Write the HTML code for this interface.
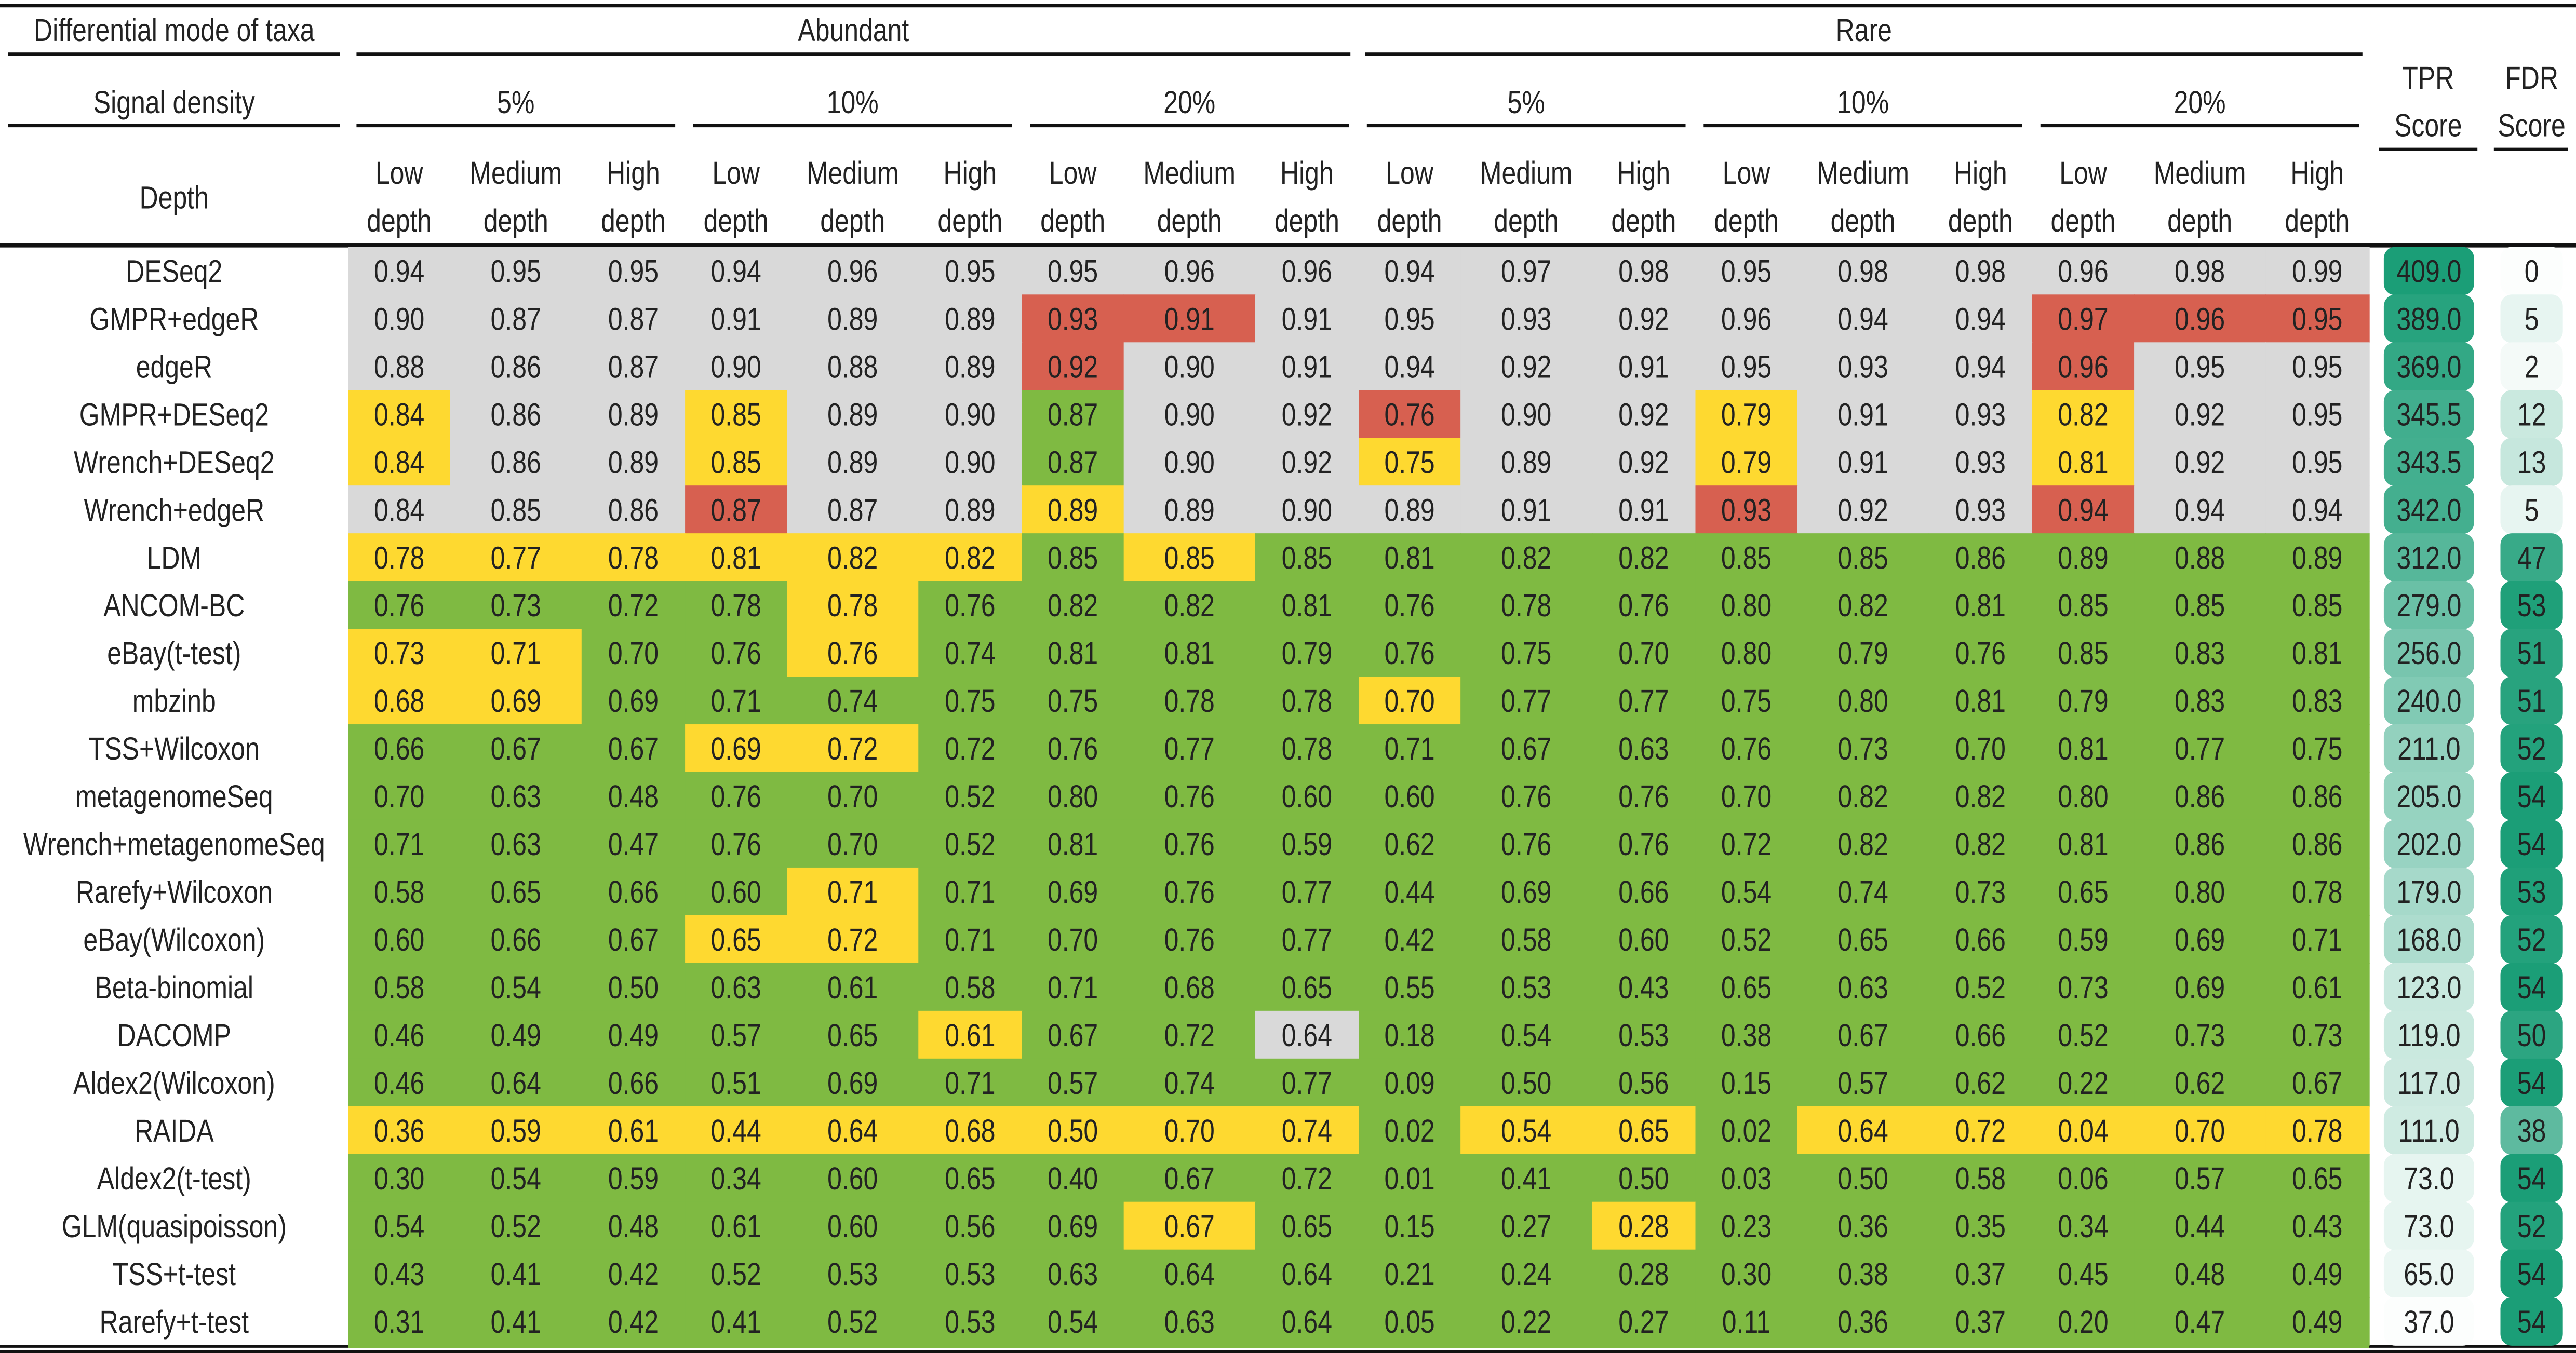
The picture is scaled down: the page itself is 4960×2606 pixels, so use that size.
<!DOCTYPE html>
<html><head><meta charset="utf-8"><style>
html,body{margin:0;padding:0;background:#fff;}
svg{display:block;}
text{font-family:"Liberation Sans",Arial,sans-serif;fill:#222;}
</style></head><body>
<svg id="chart" xmlns="http://www.w3.org/2000/svg" width="4960" height="2606" viewBox="0 0 1568 824" preserveAspectRatio="none">
<g id="hdr"></g>
<g id="body"></g>
</svg>
<script>
const methods = ["DESeq2","GMPR+edgeR","edgeR","GMPR+DESeq2","Wrench+DESeq2","Wrench+edgeR","LDM","ANCOM-BC","eBay(t-test)","mbzinb","TSS+Wilcoxon","metagenomeSeq","Wrench+metagenomeSeq","Rarefy+Wilcoxon","eBay(Wilcoxon)","Beta-binomial","DACOMP","Aldex2(Wilcoxon)","RAIDA","Aldex2(t-test)","GLM(quasipoisson)","TSS+t-test","Rarefy+t-test"];
const tprValues = [
[.94,.95,.95,.94,.96,.95,.95,.96,.96,.94,.97,.98,.95,.98,.98,.96,.98,.99],
[.90,.87,.87,.91,.89,.89,.93,.91,.91,.95,.93,.92,.96,.94,.94,.97,.96,.95],
[.88,.86,.87,.90,.88,.89,.92,.90,.91,.94,.92,.91,.95,.93,.94,.96,.95,.95],
[.84,.86,.89,.85,.89,.90,.87,.90,.92,.76,.90,.92,.79,.91,.93,.82,.92,.95],
[.84,.86,.89,.85,.89,.90,.87,.90,.92,.75,.89,.92,.79,.91,.93,.81,.92,.95],
[.84,.85,.86,.87,.87,.89,.89,.89,.90,.89,.91,.91,.93,.92,.93,.94,.94,.94],
[.78,.77,.78,.81,.82,.82,.85,.85,.85,.81,.82,.82,.85,.85,.86,.89,.88,.89],
[.76,.73,.72,.78,.78,.76,.82,.82,.81,.76,.78,.76,.80,.82,.81,.85,.85,.85],
[.73,.71,.70,.76,.76,.74,.81,.81,.79,.76,.75,.70,.80,.79,.76,.85,.83,.81],
[.68,.69,.69,.71,.74,.75,.75,.78,.78,.70,.77,.77,.75,.80,.81,.79,.83,.83],
[.66,.67,.67,.69,.72,.72,.76,.77,.78,.71,.67,.63,.76,.73,.70,.81,.77,.75],
[.70,.63,.48,.76,.70,.52,.80,.76,.60,.60,.76,.76,.70,.82,.82,.80,.86,.86],
[.71,.63,.47,.76,.70,.52,.81,.76,.59,.62,.76,.76,.72,.82,.82,.81,.86,.86],
[.58,.65,.66,.60,.71,.71,.69,.76,.77,.44,.69,.66,.54,.74,.73,.65,.80,.78],
[.60,.66,.67,.65,.72,.71,.70,.76,.77,.42,.58,.60,.52,.65,.66,.59,.69,.71],
[.58,.54,.50,.63,.61,.58,.71,.68,.65,.55,.53,.43,.65,.63,.52,.73,.69,.61],
[.46,.49,.49,.57,.65,.61,.67,.72,.64,.18,.54,.53,.38,.67,.66,.52,.73,.73],
[.46,.64,.66,.51,.69,.71,.57,.74,.77,.09,.50,.56,.15,.57,.62,.22,.62,.67],
[.36,.59,.61,.44,.64,.68,.50,.70,.74,.02,.54,.65,.02,.64,.72,.04,.70,.78],
[.30,.54,.59,.34,.60,.65,.40,.67,.72,.01,.41,.50,.03,.50,.58,.06,.57,.65],
[.54,.52,.48,.61,.60,.56,.69,.67,.65,.15,.27,.28,.23,.36,.35,.34,.44,.43],
[.43,.41,.42,.52,.53,.53,.63,.64,.64,.21,.24,.28,.30,.38,.37,.45,.48,.49],
[.31,.41,.42,.41,.52,.53,.54,.63,.64,.05,.22,.27,.11,.36,.37,.20,.47,.49]];
// cell category codes: g=gray, G=green, Y=yellow, R=red
const cellClass = [
"gggggggggggggggggg",
"ggggggRRgggggggRRR",
"ggggggRggggggggRgg",
"YggYggGggRggYggYgg",
"YggYggGggYggYggYgg",
"gggRggYgggggRggRgg",
"YYYYYYGYGGGGGGGGGG",
"GGGGYGGGGGGGGGGGGG",
"YYGGYGGGGGGGGGGGGG",
"YYGGGGGGGYGGGGGGGG",
"GGGYYGGGGGGGGGGGGG",
"GGGGGGGGGGGGGGGGGG",
"GGGGGGGGGGGGGGGGGG",
"GGGGYGGGGGGGGGGGGG",
"GGGYYGGGGGGGGGGGGG",
"GGGGGGGGGGGGGGGGGG",
"GGGGGYGGgGGGGGGGGG",
"GGGGGGGGGGGGGGGGGG",
"YYYYYYYYYGYYGYYYYY",
"GGGGGGGGGGGGGGGGGG",
"GGGGGGGYGGGYGGGGGG",
"GGGGGGGGGGGGGGGGGG",
"GGGGGGGGGGGGGGGGGG"];
const tprScore = [409.0,389.0,369.0,345.5,343.5,342.0,312.0,279.0,256.0,240.0,211.0,205.0,202.0,179.0,168.0,123.0,119.0,117.0,111.0,73.0,73.0,65.0,37.0];
const fdrScore = [0,5,2,12,13,5,47,53,51,51,52,54,54,53,52,54,50,54,38,54,52,54,54];
const modes = ["Abundant","Rare"];
const densities = ["5%","10%","20%"];
const depths = ["Low","Medium","High"];
</script>
<script>
const NS="http://www.w3.org/2000/svg";
const hdr=document.getElementById('hdr'), body=document.getElementById('body');
const COL={g:"#d9d9d9",G:"#7fba42",Y:"#fed930",R:"#d76050"};
const FS=19.5, SX=0.81;
function txt(parent,x,y,s,name,size){
  const t=document.createElementNS(NS,'text');
  t.setAttribute('x',0);t.setAttribute('y',0);
  t.setAttribute('transform',`translate(${x},${y}) scale(${SX},1)`);
  t.setAttribute('text-anchor','middle');
  t.setAttribute('font-size',size||FS);
  t.textContent=s;
  
  
  parent.appendChild(t);return t;
}
function rect(parent,x,y,w,h,fill,name,rx){
  const r=document.createElementNS(NS,'rect');
  r.setAttribute('x',x);r.setAttribute('y',y);r.setAttribute('width',w);r.setAttribute('height',h);
  r.setAttribute('fill',fill);if(rx)r.setAttribute('rx',rx);
  
  
  parent.appendChild(r);return r;
}
function line(x1,x2,y,w,name){rect(hdr,x1,y-w/2,x2-x1,w,"#111",name);}
const X0=212, GW=205, sub=[0,62,142,205];
const ROW0=150.3, RH=29.08;
const colX=(i)=>{const g=Math.floor(i/3),k=i%3;return [X0+g*GW+sub[k],X0+g*GW+sub[k+1]];};
const rowY=(r)=>ROW0+r*RH;
function mix(t){const a=[252,254,253],b=[27,158,119];return `rgb(${a.map((v,i)=>Math.round(v+(b[i]-v)*t)).join(',')})`;}
line(0,1568,3.5,2,'top-rule');
line(5,207,33,2,'mode-rule');
modes.forEach((m,i)=>{line(217+i*614,822+i*616,33,2,'mode-rule-'+m.toLowerCase());});
line(5,207,76.5,2,'density-rule');
for(let g=0;g<6;g++) line(X0+g*GW+5,X0+g*GW+199,76.5,2,'density-rule-'+g);
line(1448,1508,91,2,'tpr-rule');line(1518,1563,91,2,'fdr-rule');
line(0,1568,149.5,2.4,'header-bottom-rule');
txt(hdr,106,25,"Differential mode of taxa",'mode-header-label');
modes.forEach((m,i)=>txt(hdr,X0+GW*(1.5+3*i),25,m,'mode-'+m.toLowerCase()));
txt(hdr,106,69,"Signal density",'density-header-label');
for(let g=0;g<6;g++) txt(hdr,X0+g*GW+102,69,densities[g%3],'density-'+g);
txt(hdr,106,127,"Depth",'depth-header-label');
for(let i=0;i<18;i++){const [a,b]=colX(i);const c=(a+b)/2;
  txt(hdr,c,112,depths[i%3],'depth-label-'+i);txt(hdr,c,141,"depth",'depth-label-sub-'+i);}
txt(hdr,1478,54,"TPR",'tpr-header');txt(hdr,1478,83,"Score",'tpr-header-score');
txt(hdr,1541,54,"FDR",'fdr-header');txt(hdr,1541,83,"Score",'fdr-header-score');
methods.forEach((m,r)=>{
  const y=rowY(r);
  txt(body,106,y+RH/2+7,m,'method-label');
  for(let i=0;i<18;i++){const [a,b]=colX(i);
    rect(body,a,y,b-a+0.4,RH+0.4,COL[cellClass[r][i]]||COL.G,'tpr-cell');
    txt(body,(a+b)/2,y+RH/2+7,tprValues[r][i].toFixed(2),'tpr-value');}
  rect(body,1451,y,55,RH+0.4,mix((tprScore[r]-37)/372),'tpr-score-cell',7);
  txt(body,1478.5,y+RH/2+7,tprScore[r].toFixed(1),'tpr-score-value');
  rect(body,1522,y,38,RH+0.4,mix(fdrScore[r]/54),'fdr-score-cell',7);
  txt(body,1541,y+RH/2+7,String(fdrScore[r]),'fdr-score-value');
});
rect(body,X0,rowY(23),GW*6,2,COL.G,'green-bottom-strip');
line(0,1568,820,1.6,'bottom-rule');line(0,1568,823.2,1.6,'bottom-rule-2');
</script>
</body></html>
